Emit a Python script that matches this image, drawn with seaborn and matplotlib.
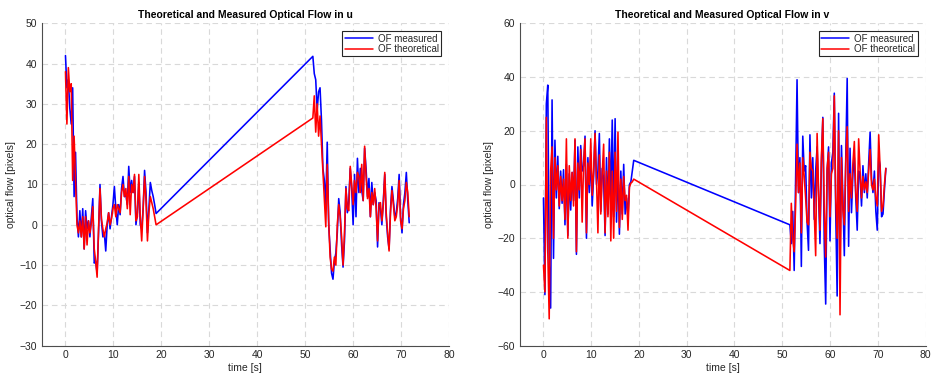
import matplotlib
matplotlib.use("Agg")
import matplotlib.pyplot as plt
import numpy as np
import pandas as pd
import seaborn as sns

sns.set_style("white")
plt.rcParams["font.family"] = ["Liberation Sans", "DejaVu Sans"]

# sample times of the two recorded stretches [s]
time_a = [0.0, 0.3, 0.6, 0.9, 1.2, 1.5, 1.8, 2.1, 2.4, 2.7, 3.0, 3.3, 3.6, 3.9, 4.2, 4.5,
          4.8, 5.1, 5.4, 5.7, 6.0, 6.3, 6.6, 6.9, 7.2, 7.5, 7.8, 8.1, 8.4, 8.7, 9.0, 9.3,
          9.6, 9.9, 10.2, 10.5, 10.8, 11.1, 11.4, 11.7, 12.0, 12.3, 12.6, 12.9, 13.2, 13.5,
          13.8, 14.1, 14.4, 14.7, 15.0, 15.3, 15.6, 15.9, 16.2, 16.5, 16.8, 17.1, 17.4,
          17.7, 18.0, 18.3, 18.6, 18.9]
time_b = [51.6, 51.9, 52.2, 52.5, 52.8, 53.1, 53.4, 53.7, 54.0, 54.3, 54.6, 54.9, 55.2,
          55.5, 55.8, 56.1, 56.4, 56.7, 57.0, 57.3, 57.6, 57.9, 58.2, 58.5, 58.8, 59.1,
          59.4, 59.7, 60.0, 60.3, 60.6, 60.9, 61.2, 61.5, 61.8, 62.1, 62.4, 62.7, 63.0,
          63.3, 63.6, 63.9, 64.2, 64.5, 64.8, 65.1, 65.4, 65.7, 66.0, 66.3, 66.6, 66.9,
          67.2, 67.5, 67.8, 68.1, 68.4, 68.7, 69.0, 69.3, 69.6, 69.9, 70.2, 70.5, 70.8,
          71.1, 71.4, 71.7]

# optical flow in u [pixels]
u_meas_a = [42, 34, 36, 29, 25, 34, 7, 18, 2, -3, 3.5, -3, 4, -6, 3.5, -1, 1, -3, 2, 6.5,
            -9.5, -9, -12, -2, 10, 1, -3, -2, -6.5, 0, 3, -1, 2, 5, 9.5, 4, 0, 5, 2.5, 9,
            12, 7, 7.5, 5, 14.5, 8, 11, 8, 12, 0, 3, 10.5, 0, -1, 4, 13.5, 8, -2, 4, 10.5,
            8.5, 7, 5, 2.8]
u_theo_a = [38, 25, 39, 33, 35, 11, 22, 11, 0, -2, 1, -3, 2, -6, 2, -5, 1, -2, 0.5, 4.5,
            -6, -9, -13, -1, 9, 1.5, -1, -3, -1, 0.5, 3, 0, 1.5, 4, 5, 2, 5, 4, 3, 8,
            10, 7, 9, 4, 12, 2.5, 10, 8, 12.5, 1, 2, 12.5, 2, -4, 4, 12, 6, -4, 3, 7,
            5.5, 4, 2, 0]
u_meas_b = [41.8, 37.5, 36, 28.5, 33, 34, 26, 14, 11, 5, 20.5, 0, -6, -12, -13.5, -9, -7,
            -2, 6.5, 3, -5, -10.5, -4, 9.5, 3, 6, 14, 9, 0, 12.5, 2, 16.5, 8, 14, 8.5, 6,
            19, 14, 7, 11.5, 2, 10.5, 5, 8, 6, -5.5, 5.5, 4, 0, 6, 12.5, 2, -3, -6, 4,
            9.5, 6, 2, 3, 6.5, 12.5, 2, -2, 5, 8, 13, 6, 0.5]
u_theo_b = [26.5, 32, 23, 30, 22, 27, 20, 13, 6, -0.5, 15, 1, -8, -11, -11.5, -8, -10, 0,
            5, 2, -3, -10, -2, 9, 4, 3.5, 14.5, 10, 5, 11, 8, 13, 12, 8, 15, 6, 19.5, 12,
            6.5, 9, 2, 8, 5, 9, 4, -4, 5, 5.5, 1, 5, 13, 3, -2, -6.5, 3, 8.5, 5, 1, 2, 5,
            11, 1, -1, 4, 6, 10.5, 8, 2]

# optical flow in v [pixels]
v_meas_a = [-5, -41, 30, 37, -30, -46, 31.5, -27.5, 16.5, -5, 10.5, -9, 5, -7, 5.5, -15,
            7.5, -19, 4, -9.5, 4.5, -6, 16.5, -26, 14, -5, 14.5, 5, 7, 18, -20, 10, -3,
            11, -8, 3, 20, 0, 5, 19, -10, 6, 2, -19, 10, -11, 17, -6, 24, -12, 24.5, -14,
            7, -18.5, 5, -11, 7.5, -11, -5, -12, 0, 1, 5, 9]
v_theo_a = [-30, -40, 25, -25, -50, 5, 14, -20, 10, -2, 7, -8, 3, -6, 2, -13, 17, -20, 7,
            -6, 4.5, -8, 17, -25, 8, -2, 13, -14, 8, 17, -18, 8, 0, 17, -4, 5, 19, 2, -18,
            11, -11, 4, 15, -18, 5, -12, 12, -21, 5, -20, 12, -10, 19.5, -16, 2, -13, 3,
            -6, -4, -17, -1, 0.5, 1, 2]
v_meas_b = [-15, -22, -10, -32, 2, 39, -3, 10, -30.5, 18, 5, 7, -14, -24.5, 18.5, -5, 10,
            -13, 5, 14, -3, -22, 8, 25, -22.5, -44.5, 5, 14, -21, 8, 12, 34, -10, -41.5,
            26.5, -30, 14.5, -5, -26.5, 10, 39.5, -23, 13.5, -10.5, 4, 10, -5, -17, 5, 3,
            -8, 7, -3, 4, -5, 8, 19.5, 2, -3, 5, -10, -17, 10, 7, -12, -11, -2, 6]
v_theo_b = [-32, -7, -20, -25, -8, 15, -3, 8, -18, 10, 3, -5, -14, -15, 12, 6, 5, -10,
            -26.5, 19, -2, -17, 10, 24.5, -10, -27, 6, 12, -12, 4, 6, 33, -5, -20, 20,
            -48.5, 10, -9.5, -15, 8, 21.5, -10, 4, -5, 8, 16, -3, -10, 17, 5, -5, 3, -2,
            1, -3, 5, 13, 0, -2, 2, -5, -8, 18.5, 6, -10, -8, 0, 6]

series_names = ["OF measured", "OF theoretical"]
series_colors = ["#0000ff", "#ff0000"]

time_all = time_a + time_b


def flow_frame(meas_a, meas_b, theo_a, theo_b):
    meas = meas_a + meas_b
    theo = theo_a + theo_b
    return pd.DataFrame({
        "time": time_all * 2,
        "flow": meas + theo,
        "series": [series_names[0]] * len(meas) + [series_names[1]] * len(theo),
    })


panels = [
    ("Theoretical and Measured Optical Flow in u",
     flow_frame(u_meas_a, u_meas_b, u_theo_a, u_theo_b), (-30, 50), np.arange(-30, 51, 10)),
    ("Theoretical and Measured Optical Flow in v",
     flow_frame(v_meas_a, v_meas_b, v_theo_a, v_theo_b), (-60, 60), np.arange(-60, 61, 20)),
]

W, H = 932, 376
fig = plt.figure(figsize=(W / 100, H / 100), dpi=100)
boxes = [
    (41.5 / W, 1 - 345.7 / H, (449 - 41.5) / W, (345.7 - 23.3) / H),
    (519.6 / W, 1 - 345.7 / H, (925.5 - 519.6) / W, (345.7 - 23.3) / H),
]

axis_gray = "#262626"
for (title, df, ylim, yticks), box in zip(panels, boxes):
    ax = fig.add_axes(box)
    sns.lineplot(data=df, x="time", y="flow", hue="series", hue_order=series_names,
                 palette=series_colors, estimator=None, sort=False, linewidth=1.15, ax=ax)
    ax.set_xlim(-5, 80)
    ax.set_ylim(*ylim)
    ax.set_xticks(np.arange(0, 81, 10))
    ax.set_yticks(yticks)
    ax.grid(True, color="#d9d9d9", linestyle=(0, (5, 3.5)), linewidth=0.8)
    ax.set_axisbelow(True)
    for side in ("top", "right"):
        ax.spines[side].set_visible(False)
    for side in ("left", "bottom"):
        ax.spines[side].set_color("#4d4d4d")
        ax.spines[side].set_linewidth(0.8)
    ax.tick_params(direction="in", length=3, width=0.6, colors="#4d4d4d",
                   labelcolor=axis_gray, labelsize=7.5, pad=3)
    ax.set_title(title, fontsize=7.5, fontweight="bold", color="black", pad=4)
    ax.set_xlabel("time [s]", fontsize=7.5, color=axis_gray, labelpad=2)
    ax.set_ylabel("optical flow [pixels]", fontsize=7.5, color=axis_gray, labelpad=3)
    leg = ax.legend(loc="upper right", fontsize=7, frameon=True, fancybox=False,
                    edgecolor="#262626", framealpha=1, handlelength=2.9,
                    borderpad=0.25, labelspacing=0.05, handletextpad=0.5,
                    borderaxespad=0.8)
    leg.get_frame().set_linewidth(0.8)
    for line in leg.get_lines():
        line.set_linewidth(1.1)

fig.savefig("out.png", dpi=100, facecolor="white")
